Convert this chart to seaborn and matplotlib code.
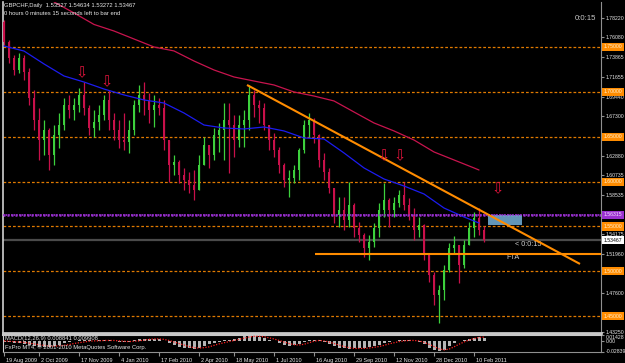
import matplotlib
matplotlib.use("Agg")
import matplotlib.pyplot as plt
from matplotlib.patches import Rectangle
from matplotlib.transforms import blended_transform_factory, ScaledTranslation
import numpy as np
import pandas as pd
import seaborn as sns

# ---------------- data (4-trading-day bars) ----------------
opens = [1.7777, 1.7555, 1.7377, 1.7243, 1.7377, 1.7221, 1.6931, 1.6686, 1.6463, 1.6575,
         1.6296, 1.6519, 1.6630, 1.6853, 1.6797, 1.6853, 1.6965, 1.6820, 1.6597, 1.6664,
         1.6742, 1.6909, 1.6686, 1.6575, 1.6463, 1.6441, 1.6575, 1.6853, 1.6965, 1.6909,
         1.6797, 1.6853, 1.6820, 1.6463, 1.6185, 1.6218, 1.6074, 1.6018, 1.5962, 1.5907,
         1.6185, 1.6408, 1.6296, 1.6519, 1.6575, 1.6686, 1.6630, 1.6463, 1.6630, 1.6686,
         1.6965, 1.6853, 1.6820, 1.6630, 1.6463, 1.6352, 1.6185, 1.6018, 1.6040, 1.6129,
         1.6352, 1.6630, 1.6686, 1.6519, 1.6241, 1.6107, 1.5929, 1.5628, 1.5684, 1.5573,
         1.5740, 1.5483, 1.5405, 1.5261, 1.5327, 1.5483, 1.5684, 1.5795, 1.5684, 1.5762,
         1.5851, 1.5740, 1.5628, 1.5461, 1.5517, 1.5183, 1.4960, 1.4737, 1.4793, 1.5016,
         1.5261, 1.5294, 1.5071, 1.5294, 1.5483, 1.5595, 1.5461]
highs = [1.7800, 1.7577, 1.7410, 1.7432, 1.7410, 1.7265, 1.7020, 1.6820, 1.6686, 1.6597,
         1.6630, 1.6764, 1.6931, 1.6965, 1.6931, 1.7042, 1.7109, 1.6853, 1.6797, 1.6853,
         1.6965, 1.7020, 1.6764, 1.6686, 1.6764, 1.6686, 1.6909, 1.7076, 1.7109, 1.6987,
         1.6965, 1.6931, 1.6909, 1.6463, 1.6296, 1.6241, 1.6152, 1.6107, 1.6129, 1.6296,
         1.6497, 1.6408, 1.6597, 1.6653, 1.6875, 1.6875, 1.6742, 1.6742, 1.6797, 1.7076,
         1.7020, 1.6909, 1.6875, 1.6630, 1.6541, 1.6385, 1.6207, 1.6129, 1.6185, 1.6374,
         1.6686, 1.6764, 1.6708, 1.6530, 1.6319, 1.6152, 1.5929, 1.5829, 1.5829, 1.5996,
         1.5760, 1.5550, 1.5428, 1.5405, 1.5539, 1.5762, 1.5984, 1.5817, 1.5829, 1.5907,
         1.5996, 1.5817, 1.5706, 1.5606, 1.5530, 1.5183, 1.4993, 1.4849, 1.5071, 1.5316,
         1.5394, 1.5294, 1.5350, 1.5550, 1.5662, 1.5706, 1.5506]
lows = [1.7521, 1.7321, 1.7187, 1.7209, 1.7132, 1.6853, 1.6575, 1.6241, 1.6296, 1.6129,
        1.6185, 1.6374, 1.6575, 1.6708, 1.6686, 1.6775, 1.6742, 1.6519, 1.6497, 1.6575,
        1.6686, 1.6575, 1.6463, 1.6374, 1.6352, 1.6319, 1.6519, 1.6775, 1.6742, 1.6653,
        1.6608, 1.6742, 1.6352, 1.5996, 1.6074, 1.5984, 1.5907, 1.5873, 1.5795, 1.5907,
        1.6185, 1.6152, 1.6241, 1.6330, 1.6241, 1.6096, 1.6274, 1.6385, 1.6385, 1.6575,
        1.6720, 1.6653, 1.6575, 1.6352, 1.6274, 1.6096, 1.5940, 1.5829, 1.5984, 1.6018,
        1.6319, 1.6497, 1.6430, 1.6163, 1.6018, 1.5873, 1.5539, 1.5495, 1.5461, 1.5495,
        1.5383, 1.5327, 1.5160, 1.5127, 1.5272, 1.5383, 1.5606, 1.5495, 1.5606, 1.5717,
        1.5684, 1.5573, 1.5350, 1.5383, 1.5127, 1.4882, 1.4626, 1.4425, 1.4682, 1.4993,
        1.5205, 1.4871, 1.5038, 1.5294, 1.5383, 1.5405, 1.5327]
closes = [1.7555, 1.7377, 1.7243, 1.7377, 1.7221, 1.6931, 1.6686, 1.6463, 1.6575, 1.6296,
          1.6519, 1.6630, 1.6853, 1.6797, 1.6853, 1.6965, 1.6820, 1.6597, 1.6664, 1.6742,
          1.6909, 1.6686, 1.6575, 1.6463, 1.6441, 1.6575, 1.6853, 1.6965, 1.6909, 1.6797,
          1.6853, 1.6820, 1.6463, 1.6185, 1.6218, 1.6074, 1.6018, 1.5962, 1.5907, 1.6185,
          1.6408, 1.6296, 1.6519, 1.6575, 1.6686, 1.6630, 1.6463, 1.6630, 1.6686, 1.6965,
          1.6853, 1.6820, 1.6630, 1.6463, 1.6352, 1.6185, 1.6018, 1.6040, 1.6129, 1.6352,
          1.6630, 1.6686, 1.6519, 1.6241, 1.6107, 1.5929, 1.5628, 1.5684, 1.5573, 1.5740,
          1.5483, 1.5405, 1.5261, 1.5327, 1.5483, 1.5684, 1.5795, 1.5684, 1.5762, 1.5851,
          1.5740, 1.5628, 1.5461, 1.5517, 1.5183, 1.4960, 1.4737, 1.4793, 1.5016, 1.5261,
          1.5294, 1.5071, 1.5294, 1.5483, 1.5595, 1.5461, 1.5347]

# moving averages (bar index, price)
ma_blue_bars = [0, 4, 8, 12, 16, 20, 24, 28, 32, 36, 40, 44, 48, 52, 56, 60, 64, 68, 72, 76,
                80, 84, 88, 92, 95]
ma_blue = [1.7510, 1.7454, 1.7310, 1.7176, 1.7109, 1.7031, 1.6965, 1.6909, 1.6875, 1.6764,
           1.6630, 1.6597, 1.6586, 1.6608, 1.6564, 1.6486, 1.6475, 1.6319, 1.6152, 1.6029,
           1.5951, 1.5862, 1.5706, 1.5606, 1.5539]
ma_red_bars = [10, 14, 18, 22, 26, 30, 34, 38, 42, 46, 50, 54, 58, 62, 66, 70, 74, 78, 82, 86,
               90, 94, 95]
ma_red = [1.8000, 1.7878, 1.7750, 1.7677, 1.7588, 1.7499, 1.7455, 1.7343, 1.7243, 1.7165,
          1.7120, 1.7076, 1.6998, 1.6953, 1.6898, 1.6775, 1.6653, 1.6564, 1.6463, 1.6330,
          1.6241, 1.6152, 1.6129]

# MACD(12,26,9) in thousandths
macd_main_milli = [-2, -4, -5, -6, -8, -11, -14, -16, -16, -15, -13, -10,
                   -6, -3, -1, 1, 2, 1, 0, 1, 2, 1, -1, -2, -3,
                   -2, 1, 4, 6, 6, 5, 4, 0, -6, -11, -15, -18, -20, -21, -18, -13,
                   -9, -5, -2, 1, 3, 5, 8, 12, 14, 13, 10, 7, 3,
                   -1, -5, -10, -13, -12, -8, -3, 2, 3, 1, -3,
                   -8, -14, -18, -20, -21, -20, -19, -18, -17, -14, -10,
                   -5, -2, 0, 2, 3, 2, 0, -2, -8, -18, -25, -28, -24, -14,
                   -5, 0, 3, 6, 8, 9, 8.841]
macd_signal_milli = [0, -1, -2, -3, -4, -6, -8, -10, -12, -13, -14, -13,
                     -12, -10, -7, -5, -3, -1, 0, 0, 1, 1, 1, 0, -1,
                     -2, -1, 0, 2, 4, 5, 5, 4, 1, -3, -7, -11, -15, -18, -19, -18,
                     -16, -12, -8, -5, -2, 1, 4, 7, 10, 12, 12, 11, 8,
                     5, 1, -3, -7, -10, -11, -9, -5, -1, 1, 0,
                     -3, -7, -11, -15, -18, -20, -20, -20, -19, -17, -15,
                     -12, -8, -5, -2, 0, 1, 1, 0, -4, -9, -15, -21, -24, -22,
                     -16, -9, -3, 2, 6, 9, 9.908]

date_labels = ["19 Aug 2009", "2 Oct 2009", "17 Nov 2009", "4 Jan 2010", "17 Feb 2010",
               "2 Apr 2010", "18 May 2010", "1 Jul 2010", "16 Aug 2010", "29 Sep 2010",
               "12 Nov 2010", "28 Dec 2010", "10 Feb 2011"]
date_label_bars = [0, 7, 15, 23, 31, 39, 46, 54, 62, 70, 78, 86, 94]

axis_ticks = [1.78220, 1.76080, 1.73865, 1.71655, 1.69440, 1.67300, 1.62880, 1.60735,
              1.58535, 1.54175, 1.51960, 1.47600, 1.43250]
orange_levels = [1.75, 1.70, 1.65, 1.60, 1.55, 1.50, 1.45]
purple_level = 1.56315
last_price = 1.53467
fta_level = 1.5196
trend_bars = [48.6, 115.2]
trend_prices = [1.7076, 1.5083]
zone_bars = [96.8, 103.6]
zone_prices = [1.5520, 1.5625]
arrow_bars = [15.6, 20.6, 76.0, 79.2, 98.8]
arrow_prices = [1.7215, 1.7115, 1.6291, 1.6291, 1.5917]

# ---------------- style ----------------
sns.set_style("dark", {"axes.facecolor": "black", "figure.facecolor": "black"})
FONT = ['Liberation Sans', 'DejaVu Sans']
plt.rcParams['font.family'] = FONT
FS = 4.2
FSR = 3.7
TXT = '#e8e8e8'

W, H = 625, 363
fig = plt.figure(figsize=(W / 100, H / 100), dpi=100)
fig.patch.set_facecolor('black')


def rect(x0, y0, x1, y1):
    return [x0 / W, 1 - y1 / H, (x1 - x0) / W, (y1 - y0) / H]


ax = fig.add_axes(rect(3, 2, 601, 333))
ax2 = fig.add_axes(rect(3, 335, 601, 352), sharex=ax)
for a in (ax, ax2):
    a.set_facecolor('black')
    a.grid(False)

df = pd.DataFrame({"bar": np.arange(len(closes)), "open": opens, "high": highs,
                   "low": lows, "close": closes})
bull = df["close"] >= df["open"]
colors = np.where(bull, '#3dd13d', '#c8104a')

# wicks and bodies
ax.vlines(df["bar"], df["low"], df["high"], colors=colors, lw=0.9, zorder=3)
body_bottom = np.minimum(df["open"], df["close"])
body_h = np.maximum(np.abs(df["close"] - df["open"]), 0.0004)
ax.bar(df["bar"], body_h, bottom=body_bottom, width=0.5, color=colors, linewidth=0, zorder=3)

# moving averages
sns.lineplot(x=ma_blue_bars, y=ma_blue, ax=ax, color='#1c1cf0', lw=0.9, zorder=4)
sns.lineplot(x=ma_red_bars, y=ma_red, ax=ax, color='#c8144e', lw=0.9, zorder=4)

# level lines
for lv in orange_levels:
    ax.axhline(lv, color='#e07a00', lw=0.9, ls=(0, (2.2, 1.6)), zorder=2)
ax.axhline(purple_level, color='#9a30d0', lw=1.8, ls=(0, (0.8, 0.8)), zorder=2)
ax.axhline(last_price, color='#4a4a4a', lw=1.6, zorder=2)
ax.hlines(fta_level, 62.2, 119.4, color='#ff8c00', lw=1.5, zorder=5)
ax.plot(trend_bars, trend_prices, color='#ff8c00', lw=1.5, zorder=5, solid_capstyle='butt')
ax.add_patch(Rectangle((zone_bars[0], zone_prices[0]), zone_bars[1] - zone_bars[0],
                       zone_prices[1] - zone_prices[0], facecolor='#6ea6cc',
                       edgecolor='none', alpha=0.9, zorder=3))
ax.axhline(purple_level, color='#9a30d0', lw=1.2, ls=(0, (0.8, 0.8)), zorder=4)

for xb, yp in zip(arrow_bars, arrow_prices):
    ax.text(xb, yp, "\u21e9", color='#e0143c', fontsize=10.5, ha='center', va='center',
            family=['DejaVu Sans'], zorder=6)

ax.text(102.2, 1.5305, "< 0:0:15", color='#d0d0d0', fontsize=5.2, ha='left', va='center')
ax.text(100.4, 1.5150, "FTA", color='#d0d0d0', fontsize=5.2, ha='left', va='center')

ax.set_xlim(-0.2, 119.4)
ax.set_ylim(1.4314, 1.8000)

# right price axis
ax.yaxis.tick_right()
ax.set_yticks(axis_ticks)
ax.set_yticklabels([f"{t:.5f}" for t in axis_ticks])
ax.tick_params(axis='y', colors='#909090', labelcolor=TXT, labelsize=FSR, length=2.5,
               width=0.8, pad=1.0, direction='out', left=False, right=True)
ax.tick_params(axis='x', bottom=False, labelbottom=False)
ax.set_xlabel("")
ax.set_ylabel("")

trans = blended_transform_factory(ax.transAxes, ax.transData)
box_kw = dict(boxstyle='square,pad=0.3', edgecolor='none')
for lv in orange_levels:
    ax.annotate(f"{lv:.5f}", xy=(1, lv), xycoords=trans, xytext=(3, 0),
                textcoords='offset pixels', ha='left', va='center', fontsize=FSR,
                color='#fff0d0', bbox=dict(facecolor='#ff8c00', **box_kw), annotation_clip=False)
ax.annotate(f"{purple_level:.5f}", xy=(1, purple_level), xycoords=trans, xytext=(3, 0),
            textcoords='offset pixels', ha='left', va='center', fontsize=FSR,
            color='#f4e0ff', bbox=dict(facecolor='#9a30d0', **box_kw), annotation_clip=False)
ax.annotate(f"{last_price:.5f}", xy=(1, last_price), xycoords=trans, xytext=(3, 0),
            textcoords='offset pixels', ha='left', va='center', fontsize=FSR,
            color='black', bbox=dict(facecolor='white', **box_kw), annotation_clip=False)

# spines
for s in ax.spines.values():
    s.set_visible(True)
ax.spines['top'].set_visible(False)
ax.spines['left'].set_color('#d0d0d0')
ax.spines['left'].set_linewidth(1.2)
ax.spines['right'].set_color('#909090')
ax.spines['bottom'].set_color('#c8c8c8')
ax.spines['bottom'].set_linewidth(2)

# ---------------- MACD panel ----------------
macd_main = [v / 1000 for v in macd_main_milli]
macd_signal = [v / 1000 for v in macd_signal_milli]
ax2.bar(df["bar"], macd_main, width=0.6, color='#b4b4b4', linewidth=0, zorder=2)
sns.lineplot(x=df["bar"], y=macd_signal, ax=ax2, color='#ff2020', lw=0.9,
             linestyle=(0, (1, 1.2)), zorder=3)
ax2.set_ylim(-0.0295, 0.0155)
ax2.yaxis.tick_right()
ax2.set_yticks([0.01428, 0.0, -0.02839])
ax2.set_yticklabels(["0.01428", "0.00", "-0.02839"])
ax2.tick_params(axis='y', colors='#909090', labelcolor=TXT, labelsize=FSR, length=2.5,
                width=0.8, pad=1.0, left=False, right=True)
yl = ax2.get_yticklabels()
yl[0].set_va('top')
yl[2].set_va('center')
ax2.set_xlabel("")
ax2.set_ylabel("")

ax2.set_xticks(date_label_bars)
ax2.set_xticklabels(date_labels)
ax2.tick_params(axis='x', colors='#909090', labelcolor=TXT, labelsize=4.0, length=3,
                width=0.8, pad=1.5, direction='out', bottom=True)
for lbl in ax2.get_xticklabels():
    lbl.set_horizontalalignment('left')
    lbl.set_transform(lbl.get_transform() + ScaledTranslation(2 / 100, 0, fig.dpi_scale_trans))

for s in ax2.spines.values():
    s.set_visible(True)
ax2.spines['top'].set_color('#c8c8c8')
ax2.spines['top'].set_linewidth(1.5)
ax2.spines['left'].set_color('#d0d0d0')
ax2.spines['right'].set_color('#909090')
ax2.spines['bottom'].set_color('#909090')

ax2.text(0.003, 0.78, "MACD(12,26,9) 0.008841 0.009908", transform=ax2.transAxes,
         color=TXT, fontsize=FS, ha='left', va='center')
ax2.text(0.003, 0.30, "FxPro MT4, \u00a9 2001-2010 MetaQuotes Software Corp.",
         transform=ax2.transAxes, color=TXT, fontsize=FS, ha='left', va='center')

# ---------------- header texts ----------------
fig.text(4 / W, 1 - 5.5 / H, "GBPCHF,Daily  1.53527 1.54634 1.53272 1.53467", color=TXT,
         fontsize=FS, ha='left', va='center')
fig.text(4 / W, 1 - 13.5 / H, "0 hours 0 minutes 15 seconds left to bar end", color=TXT,
         fontsize=FS, ha='left', va='center')
fig.text(575 / W, 1 - 18 / H, "0:0:15", color='#c8c8c8', fontsize=5.6, ha='left',
         va='center')

fig.savefig("out.png", dpi=100, facecolor='black')
